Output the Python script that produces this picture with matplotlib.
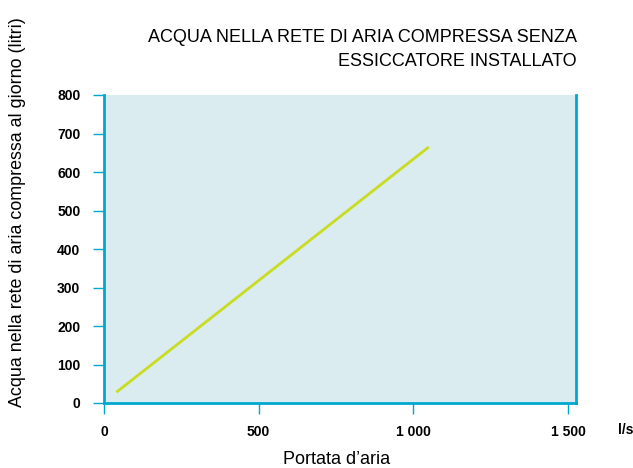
import matplotlib
matplotlib.use('Agg')
import matplotlib.pyplot as plt

# data
flow_ls = [40, 1050]          # portata d'aria (l/s)
water_l = [28, 665]           # acqua al giorno (litri)
x_ticks = [0, 500, 1000, 1500]
x_tick_labels = ['0', '500', '1 000', '1 500']
y_ticks = [0, 100, 200, 300, 400, 500, 600, 700, 800]

BLUE = '#00a8d0'
plt.rcParams['font.family'] = ['Liberation Sans', 'DejaVu Sans']

fig = plt.figure(figsize=(6.33, 4.68), dpi=100)
ax = fig.add_axes([104 / 633, 1 - 403 / 468, 472 / 633, 308 / 468])
ax.set_facecolor('#daecf0')

ax.plot(flow_ls, water_l, color='#c9dc1f', lw=2, solid_capstyle='butt')

ax.set_xlim(0, 1526)
ax.set_ylim(0, 800)
ax.set_xticks(x_ticks)
ax.set_xticklabels(x_tick_labels)
ax.set_yticks(y_ticks)

for side in ['left', 'bottom', 'right']:
    ax.spines[side].set_color(BLUE)
    ax.spines[side].set_linewidth(2)
ax.spines['top'].set_visible(False)
ax.tick_params(axis='both', color=BLUE, length=8, width=1, labelsize=10,
               labelcolor='black')
ax.tick_params(axis='x', pad=8)
ax.tick_params(axis='y', pad=9)
for lbl in ax.get_xticklabels() + ax.get_yticklabels():
    lbl.set_fontweight('bold')

fig.text(577 / 633, 1 - 38 / 468, 'ACQUA NELLA RETE DI ARIA COMPRESSA SENZA',
         ha='right', va='center', fontsize=13)
fig.text(577 / 633, 1 - 62 / 468, 'ESSICCATORE INSTALLATO',
         ha='right', va='center', fontsize=13)
fig.text(18 / 633, 1 - 212 / 468, 'Acqua nella rete di aria compressa al giorno (litri)',
         rotation=90, ha='center', va='center', fontsize=12.9)
fig.text(337 / 633, 1 - 460 / 468, 'Portata d\u2019aria',
         ha='center', va='center', fontsize=13)
fig.text(626 / 633, 1 - 430 / 468, 'l/s', ha='center', va='center',
         fontsize=10, fontweight='bold')

fig.savefig('out.png', dpi=100)
